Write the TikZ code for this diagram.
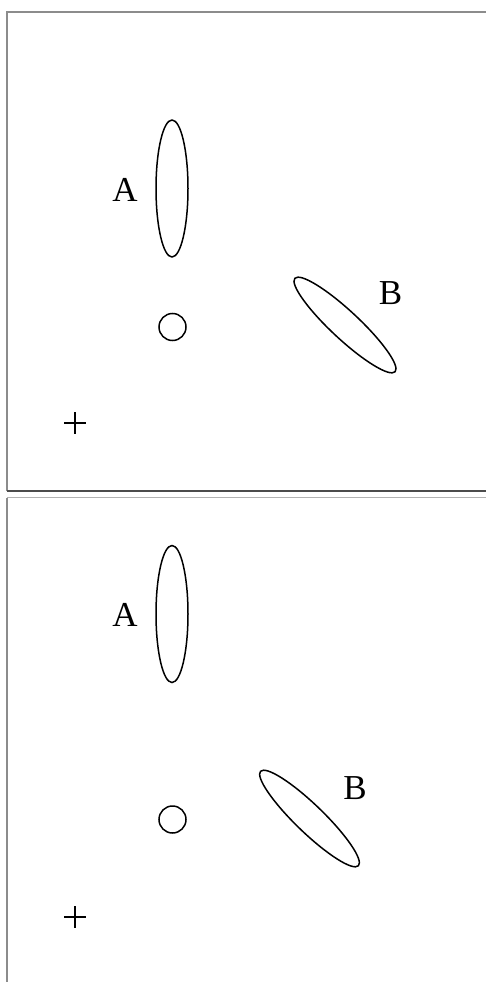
\documentclass[tikz,border=0pt]{standalone}
\usepackage{fontspec}
\setmainfont{Liberation Serif}
\usepackage{tikz}
\usetikzlibrary{positioning}

\begin{document}
\begin{tikzpicture}[
    x=1pt, y=-1pt,
    body/.style={draw, line width=1.5pt},
    label/.style={inner sep=0pt, font=\fontsize{35}{37}\selectfont},
    frame/.style={line width=1.1pt, draw=gray!90}
  ]
    \useasboundingbox (0,0) rectangle (486,982);

    % upper panel
    \draw[frame] (7,491) -- (7,12) -- (486,12);
    \draw[line width=1.3pt, black!70] (7,491) -- (486,491);
    \draw[body] (172,188.5) ellipse [x radius=16, y radius=68.5];
    \node[label] (upA) at (125,190) {A};
    \draw[body] (172.5,327) circle [radius=13.5];
    \draw[body, rotate around={-43:(345,325)}] (345,325) ellipse [x radius=68.5, y radius=14];
    \node[label] (upB) at (390.5,293) {B};
    \draw[body] (64,423) -- (86,423) (75,412) -- (75,434);

    % lower panel
    \draw[frame] (7,982) -- (7,497.5);
    \draw[line width=1.1pt, gray!60] (7,497.5) -- (486,497.5);
    \draw[body] (172,614) ellipse [x radius=16, y radius=68.5];
    \node[label] (loA) at (125,615) {A};
    \draw[body] (172.5,819.5) circle [radius=13.5];
    \draw[body, rotate around={-44:(309.5,818.5)}] (309.5,818.5) ellipse [x radius=68, y radius=14];
    \node[label] (loB) at (355,788) {B};
    \draw[body] (64,917) -- (86,917) (75,906) -- (75,928);
  \end{tikzpicture}
\end{document}
